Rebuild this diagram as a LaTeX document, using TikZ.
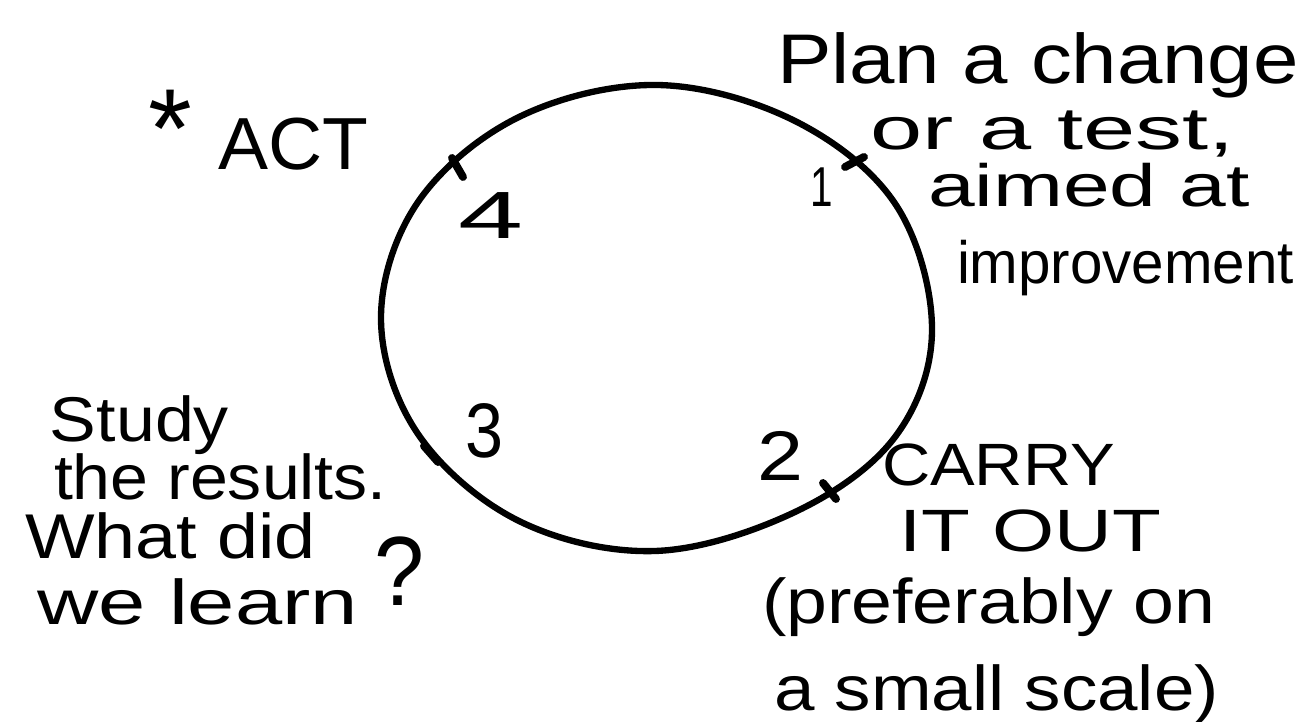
\documentclass[tikz,border=0pt]{standalone}
\usepackage{fontspec}
\setmainfont{Liberation Sans}
\usepackage{graphicx}
\newcommand\hwline[3]{\fontsize{#1}{#1}\selectfont\resizebox{#2cm}{\height}{#3}}
\begin{document}
\begin{tikzpicture}[x=0.02cm,y=-0.02cm,
  hw/.style={anchor=base west, inner sep=0pt, outer sep=0pt, text=black},
  ring/.style={line width=3.6pt, line join=round, line cap=round},
  ringmark/.style={line width=4.5pt, line cap=round}]
\fill[white] (0,0) rectangle (1305,722);
\useasboundingbox (0,0) rectangle (1305,722);

% the cycle
\draw[ring] plot[smooth cycle, tension=0.6] coordinates {
  (932,330) (895,437) (795,512) (655,551) (519,521) (418,434)
  (381,318) (418,202) (519,117) (657,85) (795,121) (896,205)};

% marks on the cycle
\coordinate (m1a) at (845,167); \coordinate (m1b) at (864,157);
\coordinate (m2a) at (823,483); \coordinate (m2b) at (836,499);
\coordinate (m3a) at (424,446); \coordinate (m3b) at (438,462);
\coordinate (m4a) at (452,158); \coordinate (m4b) at (463,177);
\draw[ringmark] (m1a) -- (m1b);
\draw[ringmark] (m2a) -- (m2b);
\draw[ringmark] (m3a) -- (m3b);
\draw[ringmark] (m4a) -- (m4b);

% step numbers
\node[hw] (n1) at (810,207) {\hwline{32}{0.45}{1}};
\node[hw] (n2) at (757,481) {\hwline{40}{0.92}{2}};
\node[hw] (n3) at (465,458) {\hwline{44}{0.76}{3}};
\node[hw] (n4) at (458,239) {\hwline{38}{1.3}{4}};

% Plan
\node[hw] (p1) at (777,84)  {\hwline{40}{10.44}{Plan a change}};
\node[hw] (p2) at (870,150) {\hwline{34}{7.3}{or a test,}};
\node[hw] (p3) at (928,207) {\hwline{34}{6.44}{aimed at}};
\node[hw] (p4) at (957,284) {\hwline{34}{6.74}{improvement}};

% Act
\node[anchor=north, inner sep=0pt] (star) at (170,90) {\fontsize{64}{64}\selectfont *};
\node[hw] (act) at (218,170) {\hwline{42}{3.0}{ACT}};

% Study
\node[hw] (s1) at (50,442)  {\hwline{36}{3.58}{Study}};
\node[hw] (s2) at (54,500)  {\hwline{36}{6.66}{the results.}};
\node[hw] (s3) at (25,559)  {\hwline{36}{5.82}{What did}};
\node[hw] (s4) at (37,624)  {\hwline{36}{6.42}{we learn}};
\node[hw] (q)  at (374,605) {\hwline{56}{1.0}{?}};

% Do
\node[hw] (d1) at (882,486) {\hwline{34}{4.66}{CARRY}};
\node[hw] (d2) at (899,552) {\hwline{34}{5.24}{IT OUT}};
\node[hw] (d3) at (762,623) {\hwline{36}{9.06}{(preferably on}};
\node[hw] (d4) at (774,710) {\hwline{36}{8.9}{a small scale)}};
\end{tikzpicture}
\end{document}
